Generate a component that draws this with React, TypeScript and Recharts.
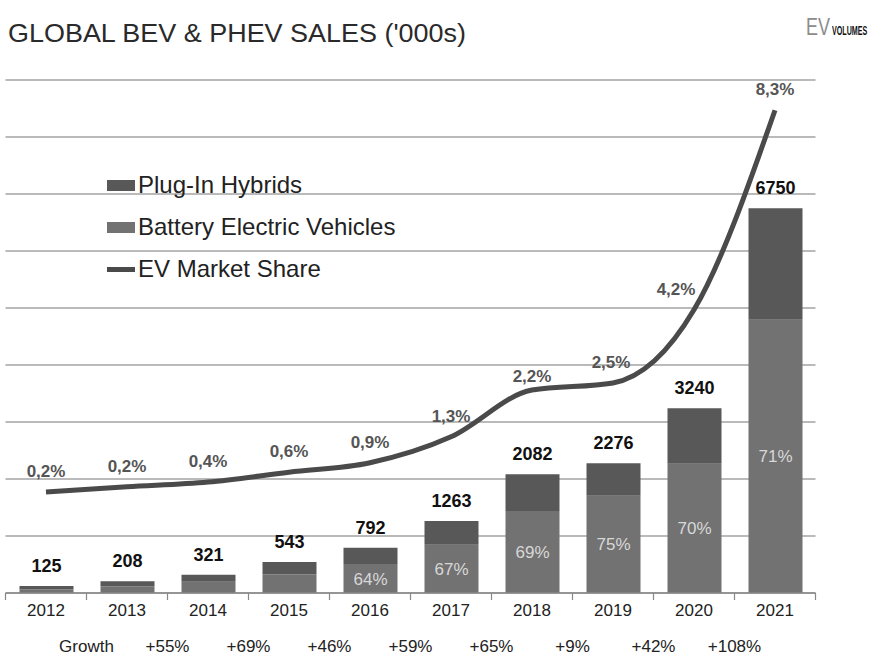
import { Bar, CartesianGrid, ComposedChart, LabelList, Line, XAxis, YAxis } from "recharts";

const years = ["2012", "2013", "2014", "2015", "2016", "2017", "2018", "2019", "2020", "2021"];
const totals = [125, 208, 321, 543, 792, 1263, 2082, 2276, 3240, 6750];
const bev = [60, 116, 196, 326, 507, 846, 1437, 1707, 2268, 4792];
const phev = [65, 92, 125, 217, 285, 417, 645, 569, 972, 1958];
const bevLabels = ["", "", "", "", "64%", "67%", "69%", "75%", "70%", "71%"];
const share = [0.19, 0.3, 0.4, 0.61, 0.81, 1.36, 2.35, 2.5, 4.05, 8.28];
const shareLabels = ["0,2%", "0,2%", "0,4%", "0,6%", "0,9%", "1,3%", "2,2%", "2,5%", "4,2%", "8,3%"];
const growth = ["", "Growth", "+55%", "+69%", "+46%", "+59%", "+65%", "+9%", "+42%", "+108%"];
const salesTicks = [0, 1000, 2000, 3000, 4000, 5000, 6000, 7000, 8000, 9000];

const data = years.map((year, i) => ({
  year,
  total: totals[i],
  bev: bev[i],
  phev: phev[i],
  share: share[i],
}));

const FONT = "'Liberation Sans', Arial, sans-serif";
const PHEV_COLOR = "#585858";
const BEV_COLOR = "#727272";
const LINE_COLOR = "#4a4a4a";
const HALF_STEP = 40.5;

function YearTick(props: any) {
  const { x, y, payload, index } = props;
  const last = index === years.length - 1;
  return (
    <g>
      <line x1={x - HALF_STEP} y1={y} x2={x - HALF_STEP} y2={y + 7} stroke="#888" strokeWidth={1.2} />
      {last && <line x1={x + HALF_STEP} y1={y} x2={x + HALF_STEP} y2={y + 7} stroke="#888" strokeWidth={1.2} />}
      <text x={x} y={y + 23} textAnchor="middle" fontSize={17} fill="#222" fontFamily={FONT}>
        {payload.value}
      </text>
      {growth[index] && (
        <text x={x - HALF_STEP} y={y + 59} textAnchor="middle" fontSize={17} fill="#222" fontFamily={FONT}>
          {growth[index]}
        </text>
      )}
    </g>
  );
}

function TotalLabel(props: any) {
  const { x, y, width, index } = props;
  return (
    <text x={x + width / 2} y={y - 14} textAnchor="middle" fontSize={18} fontWeight="bold" fill="#111" fontFamily={FONT}>
      {totals[index]}
    </text>
  );
}

function BevLabel(props: any) {
  const { x, y, width, height, index } = props;
  if (!bevLabels[index]) return null;
  return (
    <text x={x + width / 2} y={y + height / 2 + 6} textAnchor="middle" fontSize={17} fill="#d8d8d8" fontFamily={FONT}>
      {bevLabels[index]}
    </text>
  );
}

function ShareLabel(props: any) {
  const { x, y, index } = props;
  const dx = index === 8 ? -18 : index === 7 ? -2 : 0;
  const dy = index === 6 ? -8 : -15;
  return (
    <text x={x + dx} y={y + dy} textAnchor="middle" fontSize={17} fontWeight="bold" fill="#555" fontFamily={FONT}>
      {shareLabels[index]}
    </text>
  );
}

const legendRows = [
  { label: "Plug-In Hybrids", color: PHEV_COLOR, thick: 11 },
  { label: "Battery Electric Vehicles", color: BEV_COLOR, thick: 11 },
  { label: "EV Market Share", color: LINE_COLOR, thick: 5 },
];

export default function App() {
  return (
    <div style={{ position: "absolute", left: 0, top: 0, width: 874, height: 657, background: "#fff" }}>
      <ComposedChart
        width={874}
        height={657}
        data={data}
        margin={{ top: 80, right: 58.5, bottom: 4, left: 5.5 }}
        style={{ position: "absolute", left: 0, top: 0 }}
      >
        <CartesianGrid yAxisId="sales" vertical={false} stroke="#a3a3a3" strokeWidth={1.5} />
        <XAxis
          dataKey="year"
          height={60}
          tickSize={0}
          tickMargin={0}
          tickLine={false}
          axisLine={{ stroke: "#888", strokeWidth: 1.5 }}
          tick={<YearTick />}
          interval={0}
        />
        <YAxis yAxisId="sales" hide domain={[0, 9000]} ticks={salesTicks} />
        <YAxis yAxisId="share" hide orientation="right" domain={[-1.95, 8.92]} />
        <Bar yAxisId="sales" dataKey="bev" stackId="s" fill={BEV_COLOR} barSize={54} isAnimationActive={false}>
          <LabelList dataKey="bev" content={<BevLabel />} />
        </Bar>
        <Bar yAxisId="sales" dataKey="phev" stackId="s" fill={PHEV_COLOR} barSize={54} isAnimationActive={false}>
          <LabelList dataKey="phev" content={<TotalLabel />} />
        </Bar>
        <Line
          yAxisId="share"
          type="monotone"
          dataKey="share"
          stroke={LINE_COLOR}
          strokeWidth={5}
          dot={false}
          isAnimationActive={false}
        >
          <LabelList dataKey="share" content={<ShareLabel />} />
        </Line>
      </ComposedChart>
      <svg width={874} height={60} style={{ position: "absolute", left: 0, top: 0 }}>
        <text x={8} y={42} fontFamily={FONT} fontSize={26} fill="#2a2a2a" textLength={458} lengthAdjust="spacingAndGlyphs">
          GLOBAL BEV &amp; PHEV SALES ('000s)
        </text>
      </svg>
      <div style={{ position: "absolute", left: 806, top: 15, whiteSpace: "nowrap", lineHeight: "24px" }}>
        <span
          style={{
            display: "inline-block",
            fontFamily: FONT,
            fontSize: 24,
            color: "#8c8c8c",
            transform: "scaleX(0.75)",
            transformOrigin: "left",
            width: 23,
          }}
        >
          EV
        </span>
        <span
          style={{
            display: "inline-block",
            fontFamily: FONT,
            fontSize: 13,
            fontWeight: "bold",
            color: "#111",
            transform: "scaleX(0.55)",
            transformOrigin: "left",
            width: 36,
            marginLeft: 3,
          }}
        >
          VOLUMES
        </span>
      </div>
      <div style={{ position: "absolute", left: 107, top: 164, fontFamily: FONT, fontSize: 24, color: "#222" }}>
        {legendRows.map((r) => (
          <div key={r.label} style={{ display: "flex", alignItems: "center", height: 42 }}>
            <div style={{ width: 28, height: r.thick, background: r.color, marginRight: 3 }} />
            <span style={{ whiteSpace: "nowrap" }}>{r.label}</span>
          </div>
        ))}
      </div>
    </div>
  );
}
